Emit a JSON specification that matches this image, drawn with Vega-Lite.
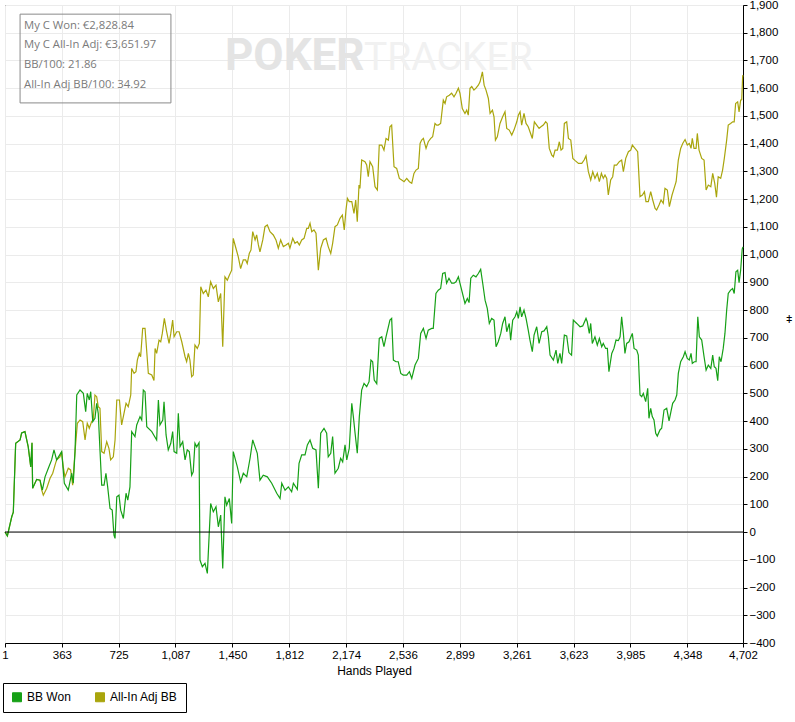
{
  "$schema": "https://vega.github.io/schema/vega-lite/v6.json",
  "width": 738,
  "height": 638,
  "autosize": {"type": "none"},
  "padding": {"left": 5, "top": 5, "right": 52, "bottom": 79},
  "background": "white",
  "config": {
    "view": {"stroke": "black", "strokeWidth": 1},
    "font": "Liberation Sans",
    "axis": {
      "labelFont": "Liberation Sans",
      "labelFontSize": 11.5,
      "labelColor": "black",
      "domainColor": "black",
      "tickColor": "black",
      "tickSize": 4,
      "gridColor": "#ebebeb",
      "gridWidth": 1,
      "titleFont": "Liberation Sans",
      "titleFontWeight": "normal",
      "titleColor": "black"
    }
  },
  "resolve": {"axis": {"x": "independent", "y": "independent"}},
  "datasets": {
    "bankroll": [
      {"series": "All-In Adj BB", "hand": 1, "bb": 0},
      {"series": "All-In Adj BB", "hand": 16, "bb": -14},
      {"series": "All-In Adj BB", "hand": 44, "bb": 55},
      {"series": "All-In Adj BB", "hand": 54, "bb": 72},
      {"series": "All-In Adj BB", "hand": 69, "bb": 320},
      {"series": "All-In Adj BB", "hand": 97, "bb": 332},
      {"series": "All-In Adj BB", "hand": 107, "bb": 357},
      {"series": "All-In Adj BB", "hand": 128, "bb": 362},
      {"series": "All-In Adj BB", "hand": 149, "bb": 307},
      {"series": "All-In Adj BB", "hand": 165, "bb": 235},
      {"series": "All-In Adj BB", "hand": 173, "bb": 322},
      {"series": "All-In Adj BB", "hand": 177, "bb": 158},
      {"series": "All-In Adj BB", "hand": 203, "bb": 190},
      {"series": "All-In Adj BB", "hand": 224, "bb": 187},
      {"series": "All-In Adj BB", "hand": 235, "bb": 151},
      {"series": "All-In Adj BB", "hand": 245, "bb": 133},
      {"series": "All-In Adj BB", "hand": 267, "bb": 158},
      {"series": "All-In Adj BB", "hand": 288, "bb": 194},
      {"series": "All-In Adj BB", "hand": 305, "bb": 212},
      {"series": "All-In Adj BB", "hand": 320, "bb": 242},
      {"series": "All-In Adj BB", "hand": 330, "bb": 260},
      {"series": "All-In Adj BB", "hand": 351, "bb": 271},
      {"series": "All-In Adj BB", "hand": 362, "bb": 290},
      {"series": "All-In Adj BB", "hand": 372, "bb": 235},
      {"series": "All-In Adj BB", "hand": 383, "bb": 199},
      {"series": "All-In Adj BB", "hand": 404, "bb": 230},
      {"series": "All-In Adj BB", "hand": 419, "bb": 224},
      {"series": "All-In Adj BB", "hand": 432, "bb": 169},
      {"series": "All-In Adj BB", "hand": 447, "bb": 290},
      {"series": "All-In Adj BB", "hand": 462, "bb": 392},
      {"series": "All-In Adj BB", "hand": 479, "bb": 404},
      {"series": "All-In Adj BB", "hand": 496, "bb": 398},
      {"series": "All-In Adj BB", "hand": 511, "bb": 332},
      {"series": "All-In Adj BB", "hand": 525, "bb": 392},
      {"series": "All-In Adj BB", "hand": 538, "bb": 374},
      {"series": "All-In Adj BB", "hand": 553, "bb": 398},
      {"series": "All-In Adj BB", "hand": 563, "bb": 404},
      {"series": "All-In Adj BB", "hand": 574, "bb": 494},
      {"series": "All-In Adj BB", "hand": 585, "bb": 488},
      {"series": "All-In Adj BB", "hand": 595, "bb": 452},
      {"series": "All-In Adj BB", "hand": 606, "bb": 446},
      {"series": "All-In Adj BB", "hand": 617, "bb": 290},
      {"series": "All-In Adj BB", "hand": 632, "bb": 284},
      {"series": "All-In Adj BB", "hand": 649, "bb": 326},
      {"series": "All-In Adj BB", "hand": 663, "bb": 302},
      {"series": "All-In Adj BB", "hand": 674, "bb": 260},
      {"series": "All-In Adj BB", "hand": 691, "bb": 271},
      {"series": "All-In Adj BB", "hand": 702, "bb": 332},
      {"series": "All-In Adj BB", "hand": 713, "bb": 476},
      {"series": "All-In Adj BB", "hand": 730, "bb": 476},
      {"series": "All-In Adj BB", "hand": 744, "bb": 386},
      {"series": "All-In Adj BB", "hand": 759, "bb": 428},
      {"series": "All-In Adj BB", "hand": 772, "bb": 464},
      {"series": "All-In Adj BB", "hand": 786, "bb": 452},
      {"series": "All-In Adj BB", "hand": 802, "bb": 494},
      {"series": "All-In Adj BB", "hand": 808, "bb": 590},
      {"series": "All-In Adj BB", "hand": 823, "bb": 572},
      {"series": "All-In Adj BB", "hand": 835, "bb": 578},
      {"series": "All-In Adj BB", "hand": 844, "bb": 620},
      {"series": "All-In Adj BB", "hand": 856, "bb": 644},
      {"series": "All-In Adj BB", "hand": 865, "bb": 632},
      {"series": "All-In Adj BB", "hand": 878, "bb": 734},
      {"series": "All-In Adj BB", "hand": 893, "bb": 734},
      {"series": "All-In Adj BB", "hand": 904, "bb": 650},
      {"series": "All-In Adj BB", "hand": 914, "bb": 572},
      {"series": "All-In Adj BB", "hand": 936, "bb": 566},
      {"series": "All-In Adj BB", "hand": 950, "bb": 546},
      {"series": "All-In Adj BB", "hand": 957, "bb": 662},
      {"series": "All-In Adj BB", "hand": 967, "bb": 644},
      {"series": "All-In Adj BB", "hand": 982, "bb": 692},
      {"series": "All-In Adj BB", "hand": 993, "bb": 686},
      {"series": "All-In Adj BB", "hand": 1003, "bb": 716},
      {"series": "All-In Adj BB", "hand": 1016, "bb": 770},
      {"series": "All-In Adj BB", "hand": 1031, "bb": 722},
      {"series": "All-In Adj BB", "hand": 1046, "bb": 680},
      {"series": "All-In Adj BB", "hand": 1057, "bb": 716},
      {"series": "All-In Adj BB", "hand": 1069, "bb": 764},
      {"series": "All-In Adj BB", "hand": 1078, "bb": 704},
      {"series": "All-In Adj BB", "hand": 1095, "bb": 722},
      {"series": "All-In Adj BB", "hand": 1110, "bb": 722},
      {"series": "All-In Adj BB", "hand": 1127, "bb": 686},
      {"series": "All-In Adj BB", "hand": 1148, "bb": 632},
      {"series": "All-In Adj BB", "hand": 1158, "bb": 614},
      {"series": "All-In Adj BB", "hand": 1169, "bb": 644},
      {"series": "All-In Adj BB", "hand": 1179, "bb": 620},
      {"series": "All-In Adj BB", "hand": 1190, "bb": 560},
      {"series": "All-In Adj BB", "hand": 1200, "bb": 566},
      {"series": "All-In Adj BB", "hand": 1211, "bb": 674},
      {"series": "All-In Adj BB", "hand": 1226, "bb": 662},
      {"series": "All-In Adj BB", "hand": 1239, "bb": 680},
      {"series": "All-In Adj BB", "hand": 1248, "bb": 884},
      {"series": "All-In Adj BB", "hand": 1264, "bb": 860},
      {"series": "All-In Adj BB", "hand": 1281, "bb": 872},
      {"series": "All-In Adj BB", "hand": 1296, "bb": 848},
      {"series": "All-In Adj BB", "hand": 1311, "bb": 902},
      {"series": "All-In Adj BB", "hand": 1328, "bb": 878},
      {"series": "All-In Adj BB", "hand": 1345, "bb": 890},
      {"series": "All-In Adj BB", "hand": 1360, "bb": 830},
      {"series": "All-In Adj BB", "hand": 1375, "bb": 860},
      {"series": "All-In Adj BB", "hand": 1388, "bb": 668},
      {"series": "All-In Adj BB", "hand": 1402, "bb": 920},
      {"series": "All-In Adj BB", "hand": 1417, "bb": 908},
      {"series": "All-In Adj BB", "hand": 1430, "bb": 926},
      {"series": "All-In Adj BB", "hand": 1445, "bb": 944},
      {"series": "All-In Adj BB", "hand": 1455, "bb": 1059},
      {"series": "All-In Adj BB", "hand": 1472, "bb": 1023},
      {"series": "All-In Adj BB", "hand": 1487, "bb": 992},
      {"series": "All-In Adj BB", "hand": 1502, "bb": 950},
      {"series": "All-In Adj BB", "hand": 1519, "bb": 981},
      {"series": "All-In Adj BB", "hand": 1534, "bb": 981},
      {"series": "All-In Adj BB", "hand": 1544, "bb": 968},
      {"series": "All-In Adj BB", "hand": 1557, "bb": 1004},
      {"series": "All-In Adj BB", "hand": 1568, "bb": 1017},
      {"series": "All-In Adj BB", "hand": 1579, "bb": 1083},
      {"series": "All-In Adj BB", "hand": 1594, "bb": 1053},
      {"series": "All-In Adj BB", "hand": 1604, "bb": 1071},
      {"series": "All-In Adj BB", "hand": 1615, "bb": 1035},
      {"series": "All-In Adj BB", "hand": 1625, "bb": 1010},
      {"series": "All-In Adj BB", "hand": 1643, "bb": 1053},
      {"series": "All-In Adj BB", "hand": 1657, "bb": 1101},
      {"series": "All-In Adj BB", "hand": 1672, "bb": 1107},
      {"series": "All-In Adj BB", "hand": 1689, "bb": 1083},
      {"series": "All-In Adj BB", "hand": 1710, "bb": 1071},
      {"series": "All-In Adj BB", "hand": 1727, "bb": 1053},
      {"series": "All-In Adj BB", "hand": 1742, "bb": 1023},
      {"series": "All-In Adj BB", "hand": 1757, "bb": 1053},
      {"series": "All-In Adj BB", "hand": 1774, "bb": 1029},
      {"series": "All-In Adj BB", "hand": 1791, "bb": 1035},
      {"series": "All-In Adj BB", "hand": 1806, "bb": 1041},
      {"series": "All-In Adj BB", "hand": 1816, "bb": 1023},
      {"series": "All-In Adj BB", "hand": 1834, "bb": 1059},
      {"series": "All-In Adj BB", "hand": 1848, "bb": 1041},
      {"series": "All-In Adj BB", "hand": 1863, "bb": 1047},
      {"series": "All-In Adj BB", "hand": 1876, "bb": 1035},
      {"series": "All-In Adj BB", "hand": 1891, "bb": 1053},
      {"series": "All-In Adj BB", "hand": 1906, "bb": 1059},
      {"series": "All-In Adj BB", "hand": 1923, "bb": 1095},
      {"series": "All-In Adj BB", "hand": 1933, "bb": 1095},
      {"series": "All-In Adj BB", "hand": 1944, "bb": 1113},
      {"series": "All-In Adj BB", "hand": 1955, "bb": 1083},
      {"series": "All-In Adj BB", "hand": 1969, "bb": 1089},
      {"series": "All-In Adj BB", "hand": 1982, "bb": 1077},
      {"series": "All-In Adj BB", "hand": 1997, "bb": 944},
      {"series": "All-In Adj BB", "hand": 2012, "bb": 1023},
      {"series": "All-In Adj BB", "hand": 2029, "bb": 1053},
      {"series": "All-In Adj BB", "hand": 2046, "bb": 1059},
      {"series": "All-In Adj BB", "hand": 2060, "bb": 1029},
      {"series": "All-In Adj BB", "hand": 2076, "bb": 1004},
      {"series": "All-In Adj BB", "hand": 2088, "bb": 1041},
      {"series": "All-In Adj BB", "hand": 2103, "bb": 1101},
      {"series": "All-In Adj BB", "hand": 2118, "bb": 1107},
      {"series": "All-In Adj BB", "hand": 2135, "bb": 1131},
      {"series": "All-In Adj BB", "hand": 2150, "bb": 1143},
      {"series": "All-In Adj BB", "hand": 2162, "bb": 1089},
      {"series": "All-In Adj BB", "hand": 2173, "bb": 1161},
      {"series": "All-In Adj BB", "hand": 2182, "bb": 1203},
      {"series": "All-In Adj BB", "hand": 2194, "bb": 1191},
      {"series": "All-In Adj BB", "hand": 2210, "bb": 1191},
      {"series": "All-In Adj BB", "hand": 2224, "bb": 1149},
      {"series": "All-In Adj BB", "hand": 2235, "bb": 1197},
      {"series": "All-In Adj BB", "hand": 2245, "bb": 1119},
      {"series": "All-In Adj BB", "hand": 2256, "bb": 1251},
      {"series": "All-In Adj BB", "hand": 2262, "bb": 1239},
      {"series": "All-In Adj BB", "hand": 2273, "bb": 1341},
      {"series": "All-In Adj BB", "hand": 2294, "bb": 1335},
      {"series": "All-In Adj BB", "hand": 2305, "bb": 1323},
      {"series": "All-In Adj BB", "hand": 2315, "bb": 1281},
      {"series": "All-In Adj BB", "hand": 2326, "bb": 1335},
      {"series": "All-In Adj BB", "hand": 2343, "bb": 1317},
      {"series": "All-In Adj BB", "hand": 2358, "bb": 1245},
      {"series": "All-In Adj BB", "hand": 2373, "bb": 1233},
      {"series": "All-In Adj BB", "hand": 2385, "bb": 1395},
      {"series": "All-In Adj BB", "hand": 2401, "bb": 1395},
      {"series": "All-In Adj BB", "hand": 2415, "bb": 1377},
      {"series": "All-In Adj BB", "hand": 2428, "bb": 1419},
      {"series": "All-In Adj BB", "hand": 2443, "bb": 1413},
      {"series": "All-In Adj BB", "hand": 2453, "bb": 1461},
      {"series": "All-In Adj BB", "hand": 2464, "bb": 1467},
      {"series": "All-In Adj BB", "hand": 2479, "bb": 1317},
      {"series": "All-In Adj BB", "hand": 2496, "bb": 1311},
      {"series": "All-In Adj BB", "hand": 2513, "bb": 1275},
      {"series": "All-In Adj BB", "hand": 2528, "bb": 1269},
      {"series": "All-In Adj BB", "hand": 2543, "bb": 1263},
      {"series": "All-In Adj BB", "hand": 2560, "bb": 1275},
      {"series": "All-In Adj BB", "hand": 2577, "bb": 1263},
      {"series": "All-In Adj BB", "hand": 2592, "bb": 1257},
      {"series": "All-In Adj BB", "hand": 2606, "bb": 1293},
      {"series": "All-In Adj BB", "hand": 2619, "bb": 1305},
      {"series": "All-In Adj BB", "hand": 2634, "bb": 1311},
      {"series": "All-In Adj BB", "hand": 2645, "bb": 1401},
      {"series": "All-In Adj BB", "hand": 2655, "bb": 1413},
      {"series": "All-In Adj BB", "hand": 2666, "bb": 1419},
      {"series": "All-In Adj BB", "hand": 2683, "bb": 1383},
      {"series": "All-In Adj BB", "hand": 2697, "bb": 1407},
      {"series": "All-In Adj BB", "hand": 2713, "bb": 1419},
      {"series": "All-In Adj BB", "hand": 2725, "bb": 1425},
      {"series": "All-In Adj BB", "hand": 2740, "bb": 1473},
      {"series": "All-In Adj BB", "hand": 2751, "bb": 1467},
      {"series": "All-In Adj BB", "hand": 2761, "bb": 1467},
      {"series": "All-In Adj BB", "hand": 2776, "bb": 1473},
      {"series": "All-In Adj BB", "hand": 2793, "bb": 1557},
      {"series": "All-In Adj BB", "hand": 2804, "bb": 1545},
      {"series": "All-In Adj BB", "hand": 2814, "bb": 1569},
      {"series": "All-In Adj BB", "hand": 2831, "bb": 1575},
      {"series": "All-In Adj BB", "hand": 2846, "bb": 1582},
      {"series": "All-In Adj BB", "hand": 2861, "bb": 1569},
      {"series": "All-In Adj BB", "hand": 2874, "bb": 1582},
      {"series": "All-In Adj BB", "hand": 2889, "bb": 1600},
      {"series": "All-In Adj BB", "hand": 2899, "bb": 1582},
      {"series": "All-In Adj BB", "hand": 2914, "bb": 1527},
      {"series": "All-In Adj BB", "hand": 2931, "bb": 1509},
      {"series": "All-In Adj BB", "hand": 2942, "bb": 1521},
      {"series": "All-In Adj BB", "hand": 2952, "bb": 1503},
      {"series": "All-In Adj BB", "hand": 2963, "bb": 1600},
      {"series": "All-In Adj BB", "hand": 2974, "bb": 1606},
      {"series": "All-In Adj BB", "hand": 2988, "bb": 1593},
      {"series": "All-In Adj BB", "hand": 3001, "bb": 1600},
      {"series": "All-In Adj BB", "hand": 3016, "bb": 1611},
      {"series": "All-In Adj BB", "hand": 3027, "bb": 1623},
      {"series": "All-In Adj BB", "hand": 3042, "bb": 1659},
      {"series": "All-In Adj BB", "hand": 3053, "bb": 1611},
      {"series": "All-In Adj BB", "hand": 3065, "bb": 1593},
      {"series": "All-In Adj BB", "hand": 3080, "bb": 1563},
      {"series": "All-In Adj BB", "hand": 3091, "bb": 1509},
      {"series": "All-In Adj BB", "hand": 3106, "bb": 1521},
      {"series": "All-In Adj BB", "hand": 3116, "bb": 1497},
      {"series": "All-In Adj BB", "hand": 3125, "bb": 1413},
      {"series": "All-In Adj BB", "hand": 3137, "bb": 1425},
      {"series": "All-In Adj BB", "hand": 3154, "bb": 1473},
      {"series": "All-In Adj BB", "hand": 3171, "bb": 1497},
      {"series": "All-In Adj BB", "hand": 3186, "bb": 1515},
      {"series": "All-In Adj BB", "hand": 3197, "bb": 1455},
      {"series": "All-In Adj BB", "hand": 3213, "bb": 1449},
      {"series": "All-In Adj BB", "hand": 3229, "bb": 1431},
      {"series": "All-In Adj BB", "hand": 3243, "bb": 1449},
      {"series": "All-In Adj BB", "hand": 3261, "bb": 1479},
      {"series": "All-In Adj BB", "hand": 3271, "bb": 1503},
      {"series": "All-In Adj BB", "hand": 3282, "bb": 1515},
      {"series": "All-In Adj BB", "hand": 3292, "bb": 1467},
      {"series": "All-In Adj BB", "hand": 3307, "bb": 1509},
      {"series": "All-In Adj BB", "hand": 3320, "bb": 1473},
      {"series": "All-In Adj BB", "hand": 3334, "bb": 1461},
      {"series": "All-In Adj BB", "hand": 3345, "bb": 1443},
      {"series": "All-In Adj BB", "hand": 3360, "bb": 1419},
      {"series": "All-In Adj BB", "hand": 3373, "bb": 1479},
      {"series": "All-In Adj BB", "hand": 3388, "bb": 1467},
      {"series": "All-In Adj BB", "hand": 3403, "bb": 1455},
      {"series": "All-In Adj BB", "hand": 3415, "bb": 1461},
      {"series": "All-In Adj BB", "hand": 3430, "bb": 1467},
      {"series": "All-In Adj BB", "hand": 3445, "bb": 1479},
      {"series": "All-In Adj BB", "hand": 3455, "bb": 1473},
      {"series": "All-In Adj BB", "hand": 3468, "bb": 1383},
      {"series": "All-In Adj BB", "hand": 3484, "bb": 1359},
      {"series": "All-In Adj BB", "hand": 3494, "bb": 1353},
      {"series": "All-In Adj BB", "hand": 3505, "bb": 1377},
      {"series": "All-In Adj BB", "hand": 3520, "bb": 1377},
      {"series": "All-In Adj BB", "hand": 3532, "bb": 1407},
      {"series": "All-In Adj BB", "hand": 3543, "bb": 1377},
      {"series": "All-In Adj BB", "hand": 3554, "bb": 1383},
      {"series": "All-In Adj BB", "hand": 3564, "bb": 1473},
      {"series": "All-In Adj BB", "hand": 3579, "bb": 1479},
      {"series": "All-In Adj BB", "hand": 3590, "bb": 1419},
      {"series": "All-In Adj BB", "hand": 3605, "bb": 1413},
      {"series": "All-In Adj BB", "hand": 3618, "bb": 1347},
      {"series": "All-In Adj BB", "hand": 3633, "bb": 1339},
      {"series": "All-In Adj BB", "hand": 3654, "bb": 1329},
      {"series": "All-In Adj BB", "hand": 3675, "bb": 1329},
      {"series": "All-In Adj BB", "hand": 3690, "bb": 1341},
      {"series": "All-In Adj BB", "hand": 3702, "bb": 1356},
      {"series": "All-In Adj BB", "hand": 3717, "bb": 1299},
      {"series": "All-In Adj BB", "hand": 3732, "bb": 1269},
      {"series": "All-In Adj BB", "hand": 3745, "bb": 1299},
      {"series": "All-In Adj BB", "hand": 3759, "bb": 1275},
      {"series": "All-In Adj BB", "hand": 3774, "bb": 1293},
      {"series": "All-In Adj BB", "hand": 3787, "bb": 1263},
      {"series": "All-In Adj BB", "hand": 3800, "bb": 1293},
      {"series": "All-In Adj BB", "hand": 3812, "bb": 1275},
      {"series": "All-In Adj BB", "hand": 3823, "bb": 1287},
      {"series": "All-In Adj BB", "hand": 3834, "bb": 1275},
      {"series": "All-In Adj BB", "hand": 3844, "bb": 1215},
      {"series": "All-In Adj BB", "hand": 3859, "bb": 1269},
      {"series": "All-In Adj BB", "hand": 3872, "bb": 1281},
      {"series": "All-In Adj BB", "hand": 3882, "bb": 1323},
      {"series": "All-In Adj BB", "hand": 3897, "bb": 1323},
      {"series": "All-In Adj BB", "hand": 3914, "bb": 1335},
      {"series": "All-In Adj BB", "hand": 3929, "bb": 1341},
      {"series": "All-In Adj BB", "hand": 3940, "bb": 1299},
      {"series": "All-In Adj BB", "hand": 3955, "bb": 1347},
      {"series": "All-In Adj BB", "hand": 3972, "bb": 1371},
      {"series": "All-In Adj BB", "hand": 3987, "bb": 1377},
      {"series": "All-In Adj BB", "hand": 3997, "bb": 1395},
      {"series": "All-In Adj BB", "hand": 4014, "bb": 1383},
      {"series": "All-In Adj BB", "hand": 4031, "bb": 1371},
      {"series": "All-In Adj BB", "hand": 4046, "bb": 1209},
      {"series": "All-In Adj BB", "hand": 4061, "bb": 1215},
      {"series": "All-In Adj BB", "hand": 4074, "bb": 1227},
      {"series": "All-In Adj BB", "hand": 4084, "bb": 1191},
      {"series": "All-In Adj BB", "hand": 4099, "bb": 1191},
      {"series": "All-In Adj BB", "hand": 4114, "bb": 1227},
      {"series": "All-In Adj BB", "hand": 4127, "bb": 1197},
      {"series": "All-In Adj BB", "hand": 4142, "bb": 1167},
      {"series": "All-In Adj BB", "hand": 4152, "bb": 1161},
      {"series": "All-In Adj BB", "hand": 4167, "bb": 1179},
      {"series": "All-In Adj BB", "hand": 4180, "bb": 1197},
      {"series": "All-In Adj BB", "hand": 4194, "bb": 1185},
      {"series": "All-In Adj BB", "hand": 4205, "bb": 1239},
      {"series": "All-In Adj BB", "hand": 4220, "bb": 1233},
      {"series": "All-In Adj BB", "hand": 4233, "bb": 1173},
      {"series": "All-In Adj BB", "hand": 4250, "bb": 1215},
      {"series": "All-In Adj BB", "hand": 4263, "bb": 1239},
      {"series": "All-In Adj BB", "hand": 4276, "bb": 1263},
      {"series": "All-In Adj BB", "hand": 4290, "bb": 1341},
      {"series": "All-In Adj BB", "hand": 4305, "bb": 1383},
      {"series": "All-In Adj BB", "hand": 4318, "bb": 1401},
      {"series": "All-In Adj BB", "hand": 4333, "bb": 1415},
      {"series": "All-In Adj BB", "hand": 4347, "bb": 1395},
      {"series": "All-In Adj BB", "hand": 4360, "bb": 1401},
      {"series": "All-In Adj BB", "hand": 4371, "bb": 1383},
      {"series": "All-In Adj BB", "hand": 4379, "bb": 1419},
      {"series": "All-In Adj BB", "hand": 4390, "bb": 1383},
      {"series": "All-In Adj BB", "hand": 4403, "bb": 1383},
      {"series": "All-In Adj BB", "hand": 4411, "bb": 1437},
      {"series": "All-In Adj BB", "hand": 4422, "bb": 1377},
      {"series": "All-In Adj BB", "hand": 4439, "bb": 1347},
      {"series": "All-In Adj BB", "hand": 4454, "bb": 1341},
      {"series": "All-In Adj BB", "hand": 4467, "bb": 1233},
      {"series": "All-In Adj BB", "hand": 4481, "bb": 1251},
      {"series": "All-In Adj BB", "hand": 4497, "bb": 1245},
      {"series": "All-In Adj BB", "hand": 4509, "bb": 1293},
      {"series": "All-In Adj BB", "hand": 4522, "bb": 1257},
      {"series": "All-In Adj BB", "hand": 4533, "bb": 1207},
      {"series": "All-In Adj BB", "hand": 4544, "bb": 1281},
      {"series": "All-In Adj BB", "hand": 4560, "bb": 1275},
      {"series": "All-In Adj BB", "hand": 4572, "bb": 1305},
      {"series": "All-In Adj BB", "hand": 4583, "bb": 1347},
      {"series": "All-In Adj BB", "hand": 4598, "bb": 1413},
      {"series": "All-In Adj BB", "hand": 4608, "bb": 1467},
      {"series": "All-In Adj BB", "hand": 4623, "bb": 1473},
      {"series": "All-In Adj BB", "hand": 4636, "bb": 1479},
      {"series": "All-In Adj BB", "hand": 4646, "bb": 1479},
      {"series": "All-In Adj BB", "hand": 4655, "bb": 1545},
      {"series": "All-In Adj BB", "hand": 4668, "bb": 1551},
      {"series": "All-In Adj BB", "hand": 4677, "bb": 1515},
      {"series": "All-In Adj BB", "hand": 4687, "bb": 1557},
      {"series": "All-In Adj BB", "hand": 4694, "bb": 1559},
      {"series": "All-In Adj BB", "hand": 4700, "bb": 1647},
      {"series": "All-In Adj BB", "hand": 4702, "bb": 1642},
      {"series": "BB Won", "hand": 1, "bb": 0},
      {"series": "BB Won", "hand": 16, "bb": -14},
      {"series": "BB Won", "hand": 44, "bb": 55},
      {"series": "BB Won", "hand": 54, "bb": 72},
      {"series": "BB Won", "hand": 69, "bb": 320},
      {"series": "BB Won", "hand": 97, "bb": 332},
      {"series": "BB Won", "hand": 107, "bb": 357},
      {"series": "BB Won", "hand": 128, "bb": 362},
      {"series": "BB Won", "hand": 149, "bb": 307},
      {"series": "BB Won", "hand": 165, "bb": 235},
      {"series": "BB Won", "hand": 173, "bb": 322},
      {"series": "BB Won", "hand": 177, "bb": 158},
      {"series": "BB Won", "hand": 203, "bb": 190},
      {"series": "BB Won", "hand": 224, "bb": 187},
      {"series": "BB Won", "hand": 239, "bb": 151},
      {"series": "BB Won", "hand": 256, "bb": 199},
      {"series": "BB Won", "hand": 277, "bb": 230},
      {"series": "BB Won", "hand": 298, "bb": 260},
      {"series": "BB Won", "hand": 313, "bb": 296},
      {"series": "BB Won", "hand": 330, "bb": 260},
      {"series": "BB Won", "hand": 362, "bb": 290},
      {"series": "BB Won", "hand": 379, "bb": 176},
      {"series": "BB Won", "hand": 404, "bb": 151},
      {"series": "BB Won", "hand": 426, "bb": 212},
      {"series": "BB Won", "hand": 436, "bb": 176},
      {"series": "BB Won", "hand": 447, "bb": 290},
      {"series": "BB Won", "hand": 458, "bb": 494},
      {"series": "BB Won", "hand": 479, "bb": 512},
      {"series": "BB Won", "hand": 500, "bb": 500},
      {"series": "BB Won", "hand": 515, "bb": 434},
      {"series": "BB Won", "hand": 525, "bb": 500},
      {"series": "BB Won", "hand": 538, "bb": 476},
      {"series": "BB Won", "hand": 547, "bb": 506},
      {"series": "BB Won", "hand": 560, "bb": 398},
      {"series": "BB Won", "hand": 574, "bb": 410},
      {"series": "BB Won", "hand": 585, "bb": 464},
      {"series": "BB Won", "hand": 595, "bb": 428},
      {"series": "BB Won", "hand": 606, "bb": 296},
      {"series": "BB Won", "hand": 617, "bb": 169},
      {"series": "BB Won", "hand": 632, "bb": 169},
      {"series": "BB Won", "hand": 644, "bb": 212},
      {"series": "BB Won", "hand": 655, "bb": 163},
      {"series": "BB Won", "hand": 670, "bb": 85},
      {"series": "BB Won", "hand": 684, "bb": 79},
      {"series": "BB Won", "hand": 695, "bb": -11},
      {"series": "BB Won", "hand": 702, "bb": -23},
      {"series": "BB Won", "hand": 713, "bb": 127},
      {"series": "BB Won", "hand": 727, "bb": 133},
      {"series": "BB Won", "hand": 738, "bb": 79},
      {"series": "BB Won", "hand": 755, "bb": 49},
      {"series": "BB Won", "hand": 772, "bb": 140},
      {"series": "BB Won", "hand": 783, "bb": 115},
      {"series": "BB Won", "hand": 797, "bb": 163},
      {"series": "BB Won", "hand": 808, "bb": 362},
      {"series": "BB Won", "hand": 829, "bb": 344},
      {"series": "BB Won", "hand": 840, "bb": 386},
      {"series": "BB Won", "hand": 861, "bb": 416},
      {"series": "BB Won", "hand": 872, "bb": 404},
      {"series": "BB Won", "hand": 882, "bb": 512},
      {"series": "BB Won", "hand": 893, "bb": 506},
      {"series": "BB Won", "hand": 904, "bb": 380},
      {"series": "BB Won", "hand": 936, "bb": 362},
      {"series": "BB Won", "hand": 967, "bb": 332},
      {"series": "BB Won", "hand": 978, "bb": 476},
      {"series": "BB Won", "hand": 988, "bb": 386},
      {"series": "BB Won", "hand": 1006, "bb": 404},
      {"series": "BB Won", "hand": 1014, "bb": 470},
      {"series": "BB Won", "hand": 1027, "bb": 350},
      {"series": "BB Won", "hand": 1041, "bb": 296},
      {"series": "BB Won", "hand": 1057, "bb": 320},
      {"series": "BB Won", "hand": 1069, "bb": 362},
      {"series": "BB Won", "hand": 1078, "bb": 290},
      {"series": "BB Won", "hand": 1095, "bb": 284},
      {"series": "BB Won", "hand": 1105, "bb": 428},
      {"series": "BB Won", "hand": 1116, "bb": 308},
      {"series": "BB Won", "hand": 1133, "bb": 326},
      {"series": "BB Won", "hand": 1148, "bb": 260},
      {"series": "BB Won", "hand": 1162, "bb": 296},
      {"series": "BB Won", "hand": 1175, "bb": 290},
      {"series": "BB Won", "hand": 1190, "bb": 205},
      {"series": "BB Won", "hand": 1200, "bb": 217},
      {"series": "BB Won", "hand": 1211, "bb": 320},
      {"series": "BB Won", "hand": 1222, "bb": 307},
      {"series": "BB Won", "hand": 1237, "bb": 322},
      {"series": "BB Won", "hand": 1243, "bb": -101},
      {"series": "BB Won", "hand": 1258, "bb": -125},
      {"series": "BB Won", "hand": 1275, "bb": -113},
      {"series": "BB Won", "hand": 1290, "bb": -149},
      {"series": "BB Won", "hand": 1311, "bb": 103},
      {"series": "BB Won", "hand": 1328, "bb": 73},
      {"series": "BB Won", "hand": 1345, "bb": 91},
      {"series": "BB Won", "hand": 1360, "bb": 19},
      {"series": "BB Won", "hand": 1375, "bb": 61},
      {"series": "BB Won", "hand": 1388, "bb": -131},
      {"series": "BB Won", "hand": 1402, "bb": 127},
      {"series": "BB Won", "hand": 1413, "bb": 97},
      {"series": "BB Won", "hand": 1430, "bb": 121},
      {"series": "BB Won", "hand": 1445, "bb": 31},
      {"series": "BB Won", "hand": 1455, "bb": 290},
      {"series": "BB Won", "hand": 1481, "bb": 235},
      {"series": "BB Won", "hand": 1502, "bb": 181},
      {"series": "BB Won", "hand": 1519, "bb": 212},
      {"series": "BB Won", "hand": 1541, "bb": 199},
      {"series": "BB Won", "hand": 1562, "bb": 266},
      {"series": "BB Won", "hand": 1579, "bb": 332},
      {"series": "BB Won", "hand": 1594, "bb": 307},
      {"series": "BB Won", "hand": 1608, "bb": 284},
      {"series": "BB Won", "hand": 1625, "bb": 187},
      {"series": "BB Won", "hand": 1646, "bb": 205},
      {"series": "BB Won", "hand": 1672, "bb": 199},
      {"series": "BB Won", "hand": 1700, "bb": 176},
      {"series": "BB Won", "hand": 1732, "bb": 140},
      {"series": "BB Won", "hand": 1753, "bb": 121},
      {"series": "BB Won", "hand": 1764, "bb": 176},
      {"series": "BB Won", "hand": 1785, "bb": 151},
      {"series": "BB Won", "hand": 1806, "bb": 163},
      {"series": "BB Won", "hand": 1827, "bb": 145},
      {"series": "BB Won", "hand": 1838, "bb": 176},
      {"series": "BB Won", "hand": 1863, "bb": 154},
      {"series": "BB Won", "hand": 1874, "bb": 248},
      {"series": "BB Won", "hand": 1891, "bb": 278},
      {"series": "BB Won", "hand": 1912, "bb": 278},
      {"series": "BB Won", "hand": 1927, "bb": 314},
      {"series": "BB Won", "hand": 1944, "bb": 332},
      {"series": "BB Won", "hand": 1961, "bb": 302},
      {"series": "BB Won", "hand": 1982, "bb": 296},
      {"series": "BB Won", "hand": 1997, "bb": 158},
      {"series": "BB Won", "hand": 2012, "bb": 356},
      {"series": "BB Won", "hand": 2033, "bb": 374},
      {"series": "BB Won", "hand": 2050, "bb": 356},
      {"series": "BB Won", "hand": 2060, "bb": 271},
      {"series": "BB Won", "hand": 2076, "bb": 284},
      {"series": "BB Won", "hand": 2088, "bb": 344},
      {"series": "BB Won", "hand": 2103, "bb": 212},
      {"series": "BB Won", "hand": 2124, "bb": 230},
      {"series": "BB Won", "hand": 2139, "bb": 266},
      {"series": "BB Won", "hand": 2152, "bb": 253},
      {"series": "BB Won", "hand": 2167, "bb": 314},
      {"series": "BB Won", "hand": 2178, "bb": 260},
      {"series": "BB Won", "hand": 2194, "bb": 302},
      {"series": "BB Won", "hand": 2210, "bb": 464},
      {"series": "BB Won", "hand": 2220, "bb": 416},
      {"series": "BB Won", "hand": 2231, "bb": 356},
      {"series": "BB Won", "hand": 2245, "bb": 284},
      {"series": "BB Won", "hand": 2258, "bb": 416},
      {"series": "BB Won", "hand": 2273, "bb": 512},
      {"series": "BB Won", "hand": 2288, "bb": 536},
      {"series": "BB Won", "hand": 2305, "bb": 524},
      {"series": "BB Won", "hand": 2320, "bb": 542},
      {"series": "BB Won", "hand": 2332, "bb": 620},
      {"series": "BB Won", "hand": 2343, "bb": 614},
      {"series": "BB Won", "hand": 2353, "bb": 548},
      {"series": "BB Won", "hand": 2369, "bb": 535},
      {"series": "BB Won", "hand": 2385, "bb": 698},
      {"series": "BB Won", "hand": 2401, "bb": 704},
      {"series": "BB Won", "hand": 2415, "bb": 668},
      {"series": "BB Won", "hand": 2428, "bb": 704},
      {"series": "BB Won", "hand": 2443, "bb": 740},
      {"series": "BB Won", "hand": 2453, "bb": 764},
      {"series": "BB Won", "hand": 2464, "bb": 770},
      {"series": "BB Won", "hand": 2475, "bb": 620},
      {"series": "BB Won", "hand": 2492, "bb": 614},
      {"series": "BB Won", "hand": 2506, "bb": 614},
      {"series": "BB Won", "hand": 2522, "bb": 572},
      {"series": "BB Won", "hand": 2538, "bb": 566},
      {"series": "BB Won", "hand": 2560, "bb": 566},
      {"series": "BB Won", "hand": 2577, "bb": 578},
      {"series": "BB Won", "hand": 2592, "bb": 554},
      {"series": "BB Won", "hand": 2613, "bb": 602},
      {"series": "BB Won", "hand": 2634, "bb": 626},
      {"series": "BB Won", "hand": 2649, "bb": 716},
      {"series": "BB Won", "hand": 2666, "bb": 734},
      {"series": "BB Won", "hand": 2683, "bb": 698},
      {"series": "BB Won", "hand": 2697, "bb": 728},
      {"series": "BB Won", "hand": 2719, "bb": 734},
      {"series": "BB Won", "hand": 2729, "bb": 734},
      {"series": "BB Won", "hand": 2746, "bb": 860},
      {"series": "BB Won", "hand": 2761, "bb": 872},
      {"series": "BB Won", "hand": 2776, "bb": 878},
      {"series": "BB Won", "hand": 2789, "bb": 932},
      {"series": "BB Won", "hand": 2804, "bb": 935},
      {"series": "BB Won", "hand": 2814, "bb": 897},
      {"series": "BB Won", "hand": 2829, "bb": 915},
      {"series": "BB Won", "hand": 2846, "bb": 897},
      {"series": "BB Won", "hand": 2861, "bb": 897},
      {"series": "BB Won", "hand": 2874, "bb": 902},
      {"series": "BB Won", "hand": 2889, "bb": 920},
      {"series": "BB Won", "hand": 2910, "bb": 872},
      {"series": "BB Won", "hand": 2931, "bb": 824},
      {"series": "BB Won", "hand": 2946, "bb": 842},
      {"series": "BB Won", "hand": 2957, "bb": 827},
      {"series": "BB Won", "hand": 2968, "bb": 915},
      {"series": "BB Won", "hand": 2984, "bb": 926},
      {"series": "BB Won", "hand": 3001, "bb": 920},
      {"series": "BB Won", "hand": 3016, "bb": 932},
      {"series": "BB Won", "hand": 3031, "bb": 947},
      {"series": "BB Won", "hand": 3044, "bb": 897},
      {"series": "BB Won", "hand": 3059, "bb": 836},
      {"series": "BB Won", "hand": 3073, "bb": 806},
      {"series": "BB Won", "hand": 3086, "bb": 752},
      {"series": "BB Won", "hand": 3101, "bb": 770},
      {"series": "BB Won", "hand": 3116, "bb": 764},
      {"series": "BB Won", "hand": 3129, "bb": 668},
      {"series": "BB Won", "hand": 3143, "bb": 686},
      {"series": "BB Won", "hand": 3159, "bb": 716},
      {"series": "BB Won", "hand": 3171, "bb": 752},
      {"series": "BB Won", "hand": 3186, "bb": 776},
      {"series": "BB Won", "hand": 3197, "bb": 722},
      {"series": "BB Won", "hand": 3213, "bb": 752},
      {"series": "BB Won", "hand": 3222, "bb": 692},
      {"series": "BB Won", "hand": 3235, "bb": 764},
      {"series": "BB Won", "hand": 3250, "bb": 776},
      {"series": "BB Won", "hand": 3261, "bb": 794},
      {"series": "BB Won", "hand": 3271, "bb": 770},
      {"series": "BB Won", "hand": 3282, "bb": 812},
      {"series": "BB Won", "hand": 3292, "bb": 776},
      {"series": "BB Won", "hand": 3307, "bb": 800},
      {"series": "BB Won", "hand": 3320, "bb": 770},
      {"series": "BB Won", "hand": 3334, "bb": 728},
      {"series": "BB Won", "hand": 3345, "bb": 692},
      {"series": "BB Won", "hand": 3360, "bb": 650},
      {"series": "BB Won", "hand": 3371, "bb": 710},
      {"series": "BB Won", "hand": 3388, "bb": 740},
      {"series": "BB Won", "hand": 3403, "bb": 680},
      {"series": "BB Won", "hand": 3420, "bb": 722},
      {"series": "BB Won", "hand": 3435, "bb": 725},
      {"series": "BB Won", "hand": 3452, "bb": 740},
      {"series": "BB Won", "hand": 3462, "bb": 704},
      {"series": "BB Won", "hand": 3473, "bb": 638},
      {"series": "BB Won", "hand": 3494, "bb": 620},
      {"series": "BB Won", "hand": 3511, "bb": 656},
      {"series": "BB Won", "hand": 3522, "bb": 608},
      {"series": "BB Won", "hand": 3536, "bb": 644},
      {"series": "BB Won", "hand": 3547, "bb": 608},
      {"series": "BB Won", "hand": 3564, "bb": 710},
      {"series": "BB Won", "hand": 3579, "bb": 707},
      {"series": "BB Won", "hand": 3593, "bb": 647},
      {"series": "BB Won", "hand": 3610, "bb": 638},
      {"series": "BB Won", "hand": 3621, "bb": 764},
      {"series": "BB Won", "hand": 3643, "bb": 752},
      {"series": "BB Won", "hand": 3664, "bb": 740},
      {"series": "BB Won", "hand": 3681, "bb": 743},
      {"series": "BB Won", "hand": 3702, "bb": 770},
      {"series": "BB Won", "hand": 3710, "bb": 758},
      {"series": "BB Won", "hand": 3723, "bb": 716},
      {"series": "BB Won", "hand": 3732, "bb": 752},
      {"series": "BB Won", "hand": 3742, "bb": 680},
      {"series": "BB Won", "hand": 3759, "bb": 704},
      {"series": "BB Won", "hand": 3774, "bb": 674},
      {"series": "BB Won", "hand": 3787, "bb": 698},
      {"series": "BB Won", "hand": 3802, "bb": 668},
      {"series": "BB Won", "hand": 3812, "bb": 680},
      {"series": "BB Won", "hand": 3827, "bb": 662},
      {"series": "BB Won", "hand": 3838, "bb": 662},
      {"series": "BB Won", "hand": 3848, "bb": 578},
      {"series": "BB Won", "hand": 3866, "bb": 644},
      {"series": "BB Won", "hand": 3880, "bb": 662},
      {"series": "BB Won", "hand": 3893, "bb": 692},
      {"series": "BB Won", "hand": 3908, "bb": 690},
      {"series": "BB Won", "hand": 3919, "bb": 704},
      {"series": "BB Won", "hand": 3929, "bb": 776},
      {"series": "BB Won", "hand": 3940, "bb": 716},
      {"series": "BB Won", "hand": 3950, "bb": 644},
      {"series": "BB Won", "hand": 3961, "bb": 680},
      {"series": "BB Won", "hand": 3976, "bb": 686},
      {"series": "BB Won", "hand": 3987, "bb": 702},
      {"series": "BB Won", "hand": 3997, "bb": 716},
      {"series": "BB Won", "hand": 4008, "bb": 662},
      {"series": "BB Won", "hand": 4025, "bb": 656},
      {"series": "BB Won", "hand": 4035, "bb": 638},
      {"series": "BB Won", "hand": 4046, "bb": 494},
      {"series": "BB Won", "hand": 4057, "bb": 488},
      {"series": "BB Won", "hand": 4067, "bb": 500},
      {"series": "BB Won", "hand": 4082, "bb": 470},
      {"series": "BB Won", "hand": 4095, "bb": 518},
      {"series": "BB Won", "hand": 4103, "bb": 410},
      {"series": "BB Won", "hand": 4114, "bb": 446},
      {"series": "BB Won", "hand": 4124, "bb": 416},
      {"series": "BB Won", "hand": 4135, "bb": 404},
      {"series": "BB Won", "hand": 4146, "bb": 356},
      {"series": "BB Won", "hand": 4156, "bb": 346},
      {"series": "BB Won", "hand": 4173, "bb": 368},
      {"series": "BB Won", "hand": 4184, "bb": 374},
      {"series": "BB Won", "hand": 4199, "bb": 440},
      {"series": "BB Won", "hand": 4216, "bb": 446},
      {"series": "BB Won", "hand": 4231, "bb": 401},
      {"series": "BB Won", "hand": 4243, "bb": 434},
      {"series": "BB Won", "hand": 4254, "bb": 464},
      {"series": "BB Won", "hand": 4269, "bb": 476},
      {"series": "BB Won", "hand": 4280, "bb": 494},
      {"series": "BB Won", "hand": 4290, "bb": 572},
      {"series": "BB Won", "hand": 4305, "bb": 614},
      {"series": "BB Won", "hand": 4322, "bb": 632},
      {"series": "BB Won", "hand": 4333, "bb": 650},
      {"series": "BB Won", "hand": 4347, "bb": 626},
      {"series": "BB Won", "hand": 4360, "bb": 620},
      {"series": "BB Won", "hand": 4371, "bb": 644},
      {"series": "BB Won", "hand": 4379, "bb": 608},
      {"series": "BB Won", "hand": 4392, "bb": 614},
      {"series": "BB Won", "hand": 4403, "bb": 614},
      {"series": "BB Won", "hand": 4414, "bb": 776},
      {"series": "BB Won", "hand": 4424, "bb": 704},
      {"series": "BB Won", "hand": 4439, "bb": 692},
      {"series": "BB Won", "hand": 4454, "bb": 632},
      {"series": "BB Won", "hand": 4467, "bb": 584},
      {"series": "BB Won", "hand": 4481, "bb": 602},
      {"series": "BB Won", "hand": 4497, "bb": 590},
      {"series": "BB Won", "hand": 4509, "bb": 638},
      {"series": "BB Won", "hand": 4519, "bb": 596},
      {"series": "BB Won", "hand": 4530, "bb": 590},
      {"series": "BB Won", "hand": 4541, "bb": 546},
      {"series": "BB Won", "hand": 4551, "bb": 632},
      {"series": "BB Won", "hand": 4562, "bb": 614},
      {"series": "BB Won", "hand": 4576, "bb": 662},
      {"series": "BB Won", "hand": 4587, "bb": 716},
      {"series": "BB Won", "hand": 4598, "bb": 800},
      {"series": "BB Won", "hand": 4608, "bb": 860},
      {"series": "BB Won", "hand": 4623, "bb": 872},
      {"series": "BB Won", "hand": 4636, "bb": 878},
      {"series": "BB Won", "hand": 4646, "bb": 860},
      {"series": "BB Won", "hand": 4657, "bb": 938},
      {"series": "BB Won", "hand": 4668, "bb": 944},
      {"series": "BB Won", "hand": 4677, "bb": 899},
      {"series": "BB Won", "hand": 4687, "bb": 944},
      {"series": "BB Won", "hand": 4697, "bb": 1020},
      {"series": "BB Won", "hand": 4702, "bb": 1028}
    ]
  },
  "layer": [
    {
      "data": {"values": [{"brand": "POKER"}]},
      "mark": {"type": "text", "font": "Roboto", "fontWeight": "bold", "fontSize": 44, "color": "#e4e4e4", "align": "left", "baseline": "alphabetic"},
      "encoding": {
        "x": {"datum": 1402, "type": "quantitative", "axis": null},
        "y": {"datum": 1666, "type": "quantitative", "axis": null},
        "text": {"field": "brand"}
      }
    },
    {
      "data": {"values": [{"brand": "TRACKER"}]},
      "mark": {"type": "text", "font": "Roboto", "fontSize": 39, "color": "#f1f1f1", "align": "left", "baseline": "alphabetic"},
      "encoding": {
        "x": {"datum": 2288, "type": "quantitative", "axis": null},
        "y": {"datum": 1666, "type": "quantitative", "axis": null},
        "text": {"field": "brand"}
      }
    },
    {
      "data": {"values": [{"box": "stats"}]},
      "mark": {"type": "rect", "filled": false, "stroke": "#8a8a8a", "strokeWidth": 1},
      "encoding": {
        "x": {"datum": 97, "type": "quantitative", "axis": null},
        "x2": {"datum": 1058},
        "y": {"datum": 1867, "type": "quantitative", "axis": null},
        "y2": {"datum": 1547}
      }
    },
    {
      "data": {"values": [{"stat": ["My C Won: €2,828.84", "My C All-In Adj: €3,651.97", "BB/100: 21.86", "All-In Adj BB/100: 34.92"]}]},
      "mark": {"type": "text", "font": "Open Sans", "fontSize": 11.3, "color": "#7a7a7a", "align": "left", "baseline": "top", "lineHeight": 19.7},
      "encoding": {
        "x": {"datum": 122, "type": "quantitative", "axis": null},
        "y": {"datum": 1847, "type": "quantitative", "axis": null},
        "text": {"field": "stat"}
      }
    },
    {
      "data": {"name": "bankroll"},
      "mark": {"type": "line", "strokeWidth": 1.2, "interpolate": "linear"},
      "encoding": {
        "x": {
          "field": "hand",
          "type": "quantitative",
          "scale": {"domain": [1, 4702], "nice": false, "zero": false},
          "axis": {
            "title": "Hands Played",
            "titleFontSize": 12,
            "titlePadding": 5,
            "values": [1, 363, 725, 1087, 1450, 1812, 2174, 2536, 2899, 3261, 3623, 3985, 4348, 4702],
            "format": ",.0f",
            "labelFlush": false,
            "labelPadding": 2,
            "grid": true
          }
        },
        "y": {
          "field": "bb",
          "type": "quantitative",
          "scale": {"domain": [-400, 1900], "nice": false, "zero": false},
          "axis": {
            "orient": "right",
            "title": "ǂ",
            "titleAngle": 0,
            "titleFontSize": 11,
            "titlePadding": 11,
            "values": [-400, -300, -200, -100, 0, 100, 200, 300, 400, 500, 600, 700, 800, 900, 1000, 1100, 1200, 1300, 1400, 1500, 1600, 1700, 1800, 1900],
            "format": ",.0f",
            "labelPadding": 2,
            "labelFlush": false,
            "grid": true
          }
        },
        "color": {
          "field": "series",
          "type": "nominal",
          "sort": null,
          "scale": {"domain": ["BB Won", "All-In Adj BB"], "range": ["#16a016", "#a9a50c"]},
          "legend": {
            "orient": "none",
            "legendX": -2,
            "legendY": 678,
            "direction": "horizontal",
            "title": null,
            "strokeColor": "black",
            "fillColor": "white",
            "padding": 8,
            "symbolType": "square",
            "symbolSize": 81,
            "symbolStrokeColor": "black",
            "symbolStrokeWidth": 1,
            "labelFont": "Liberation Sans",
            "labelFontSize": 12,
            "labelColor": "black",
            "labelOffset": 4,
            "columnPadding": 22,
            "encode": {
              "symbols": {
                "update": {
                  "fill": {"scale": "color", "field": "value"},
                  "stroke": {"value": "black"},
                  "strokeWidth": {"value": 1},
                  "opacity": {"value": 1}
                }
              }
            }
          }
        }
      }
    },
    {
      "data": {"values": [{"level": "zero"}]},
      "mark": {"type": "rule", "color": "black", "strokeWidth": 1},
      "encoding": {
        "y": {"datum": 0, "type": "quantitative", "axis": null}
      }
    }
  ]
}
